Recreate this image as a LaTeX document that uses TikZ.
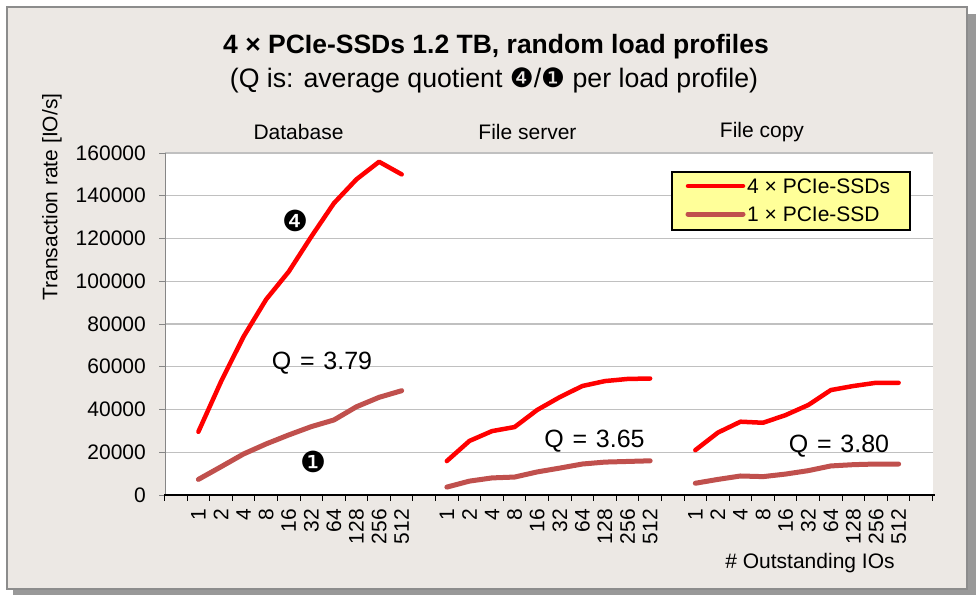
\documentclass[tikz,border=0pt]{standalone}
\usepackage{fontspec}
\setmainfont{Liberation Sans}
\newfontfamily\dingfont{DejaVu Sans}
\definecolor{framebg}{RGB}{236,232,228}
\definecolor{framegray}{RGB}{140,140,140}
\definecolor{shadowgray}{RGB}{153,153,153}
\definecolor{gridc}{RGB}{192,192,192}
\definecolor{axisgray}{RGB}{134,134,134}
\definecolor{oneSSD}{RGB}{192,80,77}
\definecolor{legendbg}{RGB}{255,255,153}
\newcommand{\qsp}{\hspace{0.35em}}
\begin{document}
\begin{tikzpicture}[x=1pt,y=-1pt,
  lbl/.style={font=\fontsize{21}{24}\selectfont, inner sep=0pt},
  qlbl/.style={font=\fontsize{25}{28}\selectfont, inner sep=0pt},
  mark4/.style={font=\dingfont\fontsize{29}{30}\selectfont, inner sep=0pt},
  fourline/.style={red, line width=4.5pt, line cap=round, line join=round},
  oneline/.style={oneSSD, line width=5pt, line cap=round, line join=round},
  gridline/.style={gridc, line width=1.3pt},
  tickline/.style={line width=1pt}]
\useasboundingbox (0,0) rectangle (976,595);
% frame with shadow
\fill[shadowgray] (13,14) rectangle (976,595);
\draw[framegray, line width=2pt, fill=framebg] (7,7) rectangle (967,589);
% plot area
\fill[white] (165,153) rectangle (933,495);
\foreach \v in {20,40,...,160}
  \draw[gridline] (165,{495-2.1375*\v}) -- (933,{495-2.1375*\v});
% y axis
\draw[axisgray, tickline] (165,153) -- (165,495);
\foreach \v/\t in {0/0,20/20000,40/40000,60/60000,80/80000,100/100000,120/120000,140/140000,160/160000}{
  \draw[axisgray, tickline] (159,{495-2.1375*\v}) -- (165,{495-2.1375*\v});
  \node[lbl, anchor=east] (yt\v) at (146,{495-2.1375*\v}) {\t};
}
% x axis
\draw[black, line width=1.4pt] (164,495) -- (934.5,495);
\foreach \k in {0,...,34}
  \draw[black, tickline] ({164.5+22.588*\k},495) -- ({164.5+22.588*\k},501);
\foreach \g in {2,13,24}
  \foreach \t [count=\j from 0] in {1,2,4,8,16,32,64,128,256,512}
    \node[lbl, rotate=90, anchor=east] (xl-\g-\j) at ({153.206+22.588*(\g+\j)},509) {\t};
% data
\begin{scope}[shift={(153.206,495)}, x=22.588pt, y=2.1375pt]
  \draw[oneline] plot coordinates {(2,7.3) (3,13.2) (4,19.2) (5,23.9) (6,28.1) (7,32.0) (8,35.1) (9,41.3) (10,45.7) (11,48.8)};
  \draw[fourline] plot coordinates {(2,29.6) (3,53) (4,74.1) (5,91.5) (6,104.5) (7,120.9) (8,136.5) (9,147.7) (10,155.9) (11,150.0)};
  \draw[oneline] plot coordinates {(13,3.7) (14,6.5) (15,8.0) (16,8.4) (17,10.8) (18,12.6) (19,14.5) (20,15.4) (21,15.7) (22,16.0)};
  \draw[fourline] plot coordinates {(13,15.9) (14,25.3) (15,29.9) (16,31.8) (17,39.8) (18,45.8) (19,51.0) (20,53.3) (21,54.3) (22,54.5)};
  \draw[oneline] plot coordinates {(24,5.5) (25,7.3) (26,8.9) (27,8.6) (28,9.8) (29,11.4) (30,13.6) (31,14.2) (32,14.5) (33,14.5)};
  \draw[fourline] plot coordinates {(24,21.0) (25,29.2) (26,34.3) (27,33.8) (28,37.4) (29,42.1) (30,49.1) (31,51.0) (32,52.5) (33,52.5)};
\end{scope}
% titles
\node[font=\bfseries\fontsize{26.5}{30}\selectfont, inner sep=0pt] (title) at (496,47) {4 × PCIe-SSDs 1.2 TB, random load profiles};
\node[font=\fontsize{26.7}{30}\selectfont, inner sep=0pt] (subtitle) at (494,80) {(Q is: average quotient {\dingfont ❹}/{\dingfont ❶} per load profile)};
% group labels
\node[lbl] (gdb) at (298.5,132) {Database};
\node[lbl] (gfs) at (527.5,132) {File server};
\node[lbl] (gfc) at (762,132) {File copy};
% axis titles
\node[lbl, rotate=90] (ylabel) at (52,197) {Transaction rate [IO/s]};
\node[lbl] (xlabel) at (810,563) {\# Outstanding IOs};
% quotient labels
\node[qlbl] (qdb) at (322,363) {Q\qsp=\qsp3.79};
\node[qlbl] (qfs) at (594.5,441) {Q\qsp=\qsp3.65};
\node[qlbl] (qfc) at (839,446) {Q\qsp=\qsp3.80};
% markers
\node[mark4] (m4) at (295,221) {❹};
\node[mark4] (m1) at (313,462) {❶};
% legend
\draw[black, line width=1.2pt, fill=legendbg] (672,172) rectangle (910,230);
\coordinate (l4a) at (688,186); \coordinate (l4b) at (743,186);
\coordinate (l1a) at (688,214); \coordinate (l1b) at (743,214);
\draw[fourline] (l4a) -- (l4b);
\draw[oneline] (l1a) -- (l1b);
\node[lbl, anchor=west] (leg4) at (747,186) {4 × PCIe-SSDs};
\node[lbl, anchor=west] (leg1) at (747,214) {1 × PCIe-SSD};
\end{tikzpicture}
\end{document}
